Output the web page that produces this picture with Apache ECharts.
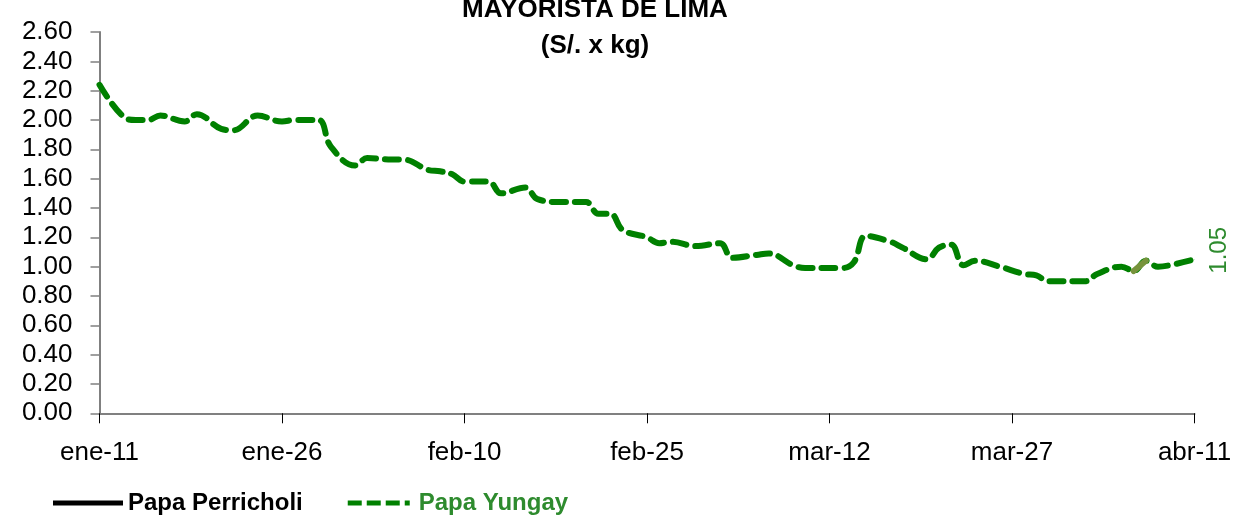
<!DOCTYPE html>
<html><head><meta charset="utf-8">
<script src="https://cdn.jsdelivr.net/npm/echarts@6/dist/echarts.min.js"></script>
<style>html,body{margin:0;padding:0;background:#fff}#c{width:1237px;height:516px}</style>
</head><body><div id="c"></div>
<script>
const FONT = "'Liberation Sans Narrow','Arial Narrow','Liberation Sans',sans-serif";
const titleText = "MAYORISTA DE LIMA\n(S/. x kg)";
const tickLabels = ["ene-11","ene-26","feb-10","feb-25","mar-12","mar-27","abr-11"];
const seriesNames = ["Papa Perricholi","Papa Yungay"];
// day offsets from ene-11
const yungayDays = [0,2,3,4,5,7,8,10,11,13,15,16,18,19,21,22,24,25,27,28,29,30,32,33,35,36,38,40,41,42,43,45,46,47,49,51,52,54,55,57,58,61,62,63,65,66,68,69,70,71,72,74,76,77,78,81,82,84,85,86,87,88,90];
const yungayValues = [2.24,2.02,2.00,2.00,2.03,1.99,2.04,1.94,1.93,2.03,1.99,2.00,2.00,1.82,1.69,1.74,1.73,1.73,1.66,1.65,1.63,1.58,1.58,1.50,1.54,1.46,1.44,1.44,1.36,1.36,1.25,1.20,1.16,1.17,1.14,1.16,1.06,1.08,1.09,1.01,0.99,0.99,1.03,1.21,1.17,1.13,1.05,1.13,1.15,1.01,1.04,1.00,0.95,0.94,0.90,0.90,0.95,1.00,0.97,1.04,1.00,1.01,1.05];
const perricholiValues = [];
const oliveDays = [85,86];
const oliveValues = [0.97,1.04];

const yData = yungayDays.map((d,i)=>{
  const item = {value:[d,yungayValues[i]]};
  if (i === yungayDays.length-1) {
    item.symbol = 'circle';
    item.symbolSize = 0.5;
    item.label = {show:true, position:'right', distance:22, offset:[9,3], rotate:90, formatter:(p)=>p.value[1].toFixed(2),
      color:'#2e8b2e', fontSize:24, fontFamily:FONT, align:'center', verticalAlign:'middle'};
  }
  return item;
});

const dashIcon = 'path://M0,0h14v5h-14z M19,0h14v5h-14z M38,0h14v5h-14z M57,0h5v5h-5z';

const chart = echarts.init(document.getElementById('c'), null, {renderer:'canvas'});
chart.setOption({
  animation:false,
  backgroundColor:'#fff',
  title:{text:titleText, left:590, textAlign:'center', top:-13,
    textStyle:{fontFamily:FONT, fontSize:26, fontWeight:'bold', color:'#000', lineHeight:36}},
  grid:{left:99.5, right:42.5, top:32, bottom:102.7, containLabel:false},
  legend:{bottom:-4, left:48, itemWidth:70, itemHeight:5, itemGap:45,
    data:[
      {name:seriesNames[0], icon:'rect', textStyle:{color:'#000'}},
      {name:seriesNames[1], icon:dashIcon, textStyle:{color:'#2e8b2e'}}],
    textStyle:{fontFamily:FONT, fontSize:24, fontWeight:'bold'}},
  xAxis:{type:'value', min:0, max:90, interval:15,
    axisLine:{lineStyle:{color:'#808080', width:2}},
    axisTick:{show:true, length:10, lineStyle:{color:'#000', width:1}},
    splitLine:{show:false},
    axisLabel:{margin:27, fontFamily:FONT, fontSize:26, color:'#000', formatter:(v)=>tickLabels[Math.round(v/15)]||''}},
  yAxis:{type:'value', min:0, max:2.6, interval:0.2,
    axisLine:{show:true, lineStyle:{color:'#808080', width:2}},
    axisTick:{show:true, length:9, lineStyle:{color:'#808080', width:1.5}},
    splitLine:{show:false},
    axisLabel:{margin:27, fontFamily:FONT, fontSize:26, color:'#000', formatter:(v)=>v.toFixed(2)}},
  series:[
    {name:seriesNames[0], type:'line', data:perricholiValues, symbol:'none',
      lineStyle:{color:'#000', width:5}, itemStyle:{color:'#000'}},
    {name:seriesNames[1], type:'line', data:yData, symbol:'none', showSymbol:true, smooth:0.4,
      lineStyle:{color:'#008000', width:6, type:[14,9], cap:'round'}, itemStyle:{color:'#008000'}},
    {name:'seg', type:'line', data:oliveDays.map((d,i)=>[d,oliveValues[i]]), symbol:'none',
      lineStyle:{color:'#77933C', width:6, cap:'round'}, itemStyle:{color:'#77933C'}, silent:true}
  ]
});
</script></body></html>
